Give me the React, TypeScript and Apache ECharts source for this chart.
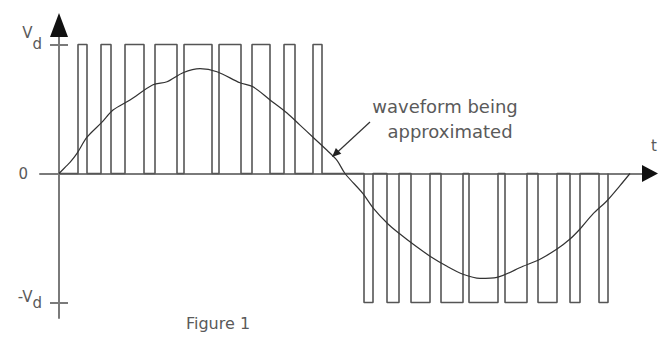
import React, { useEffect, useRef } from "react";
import * as echarts from "echarts";

// Pulse edges (time units, origin at the vertical axis)
const posPulseStart = [19, 42, 66, 96, 125, 160, 193, 225, 254];
const posPulseEnd = [28, 52, 85, 118, 153, 182, 211, 236, 263];
const negPulseStart = [305, 328, 352, 382, 410, 446, 479, 511, 540];
const negPulseEnd = [314, 340, 371, 404, 439, 468, 498, 521, 549];
const posLevel = 1; // Vd
const negLevel = -1; // -Vd

// Waveform being approximated
const curveT = [0, 7, 11, 18, 28, 43, 54, 71, 94, 108, 124, 141, 158, 181, 194, 211, 228, 241, 254, 268, 278, 286, 304, 314, 329, 341, 354, 371, 388, 404, 421, 438, 464, 481, 498, 511, 521, 534, 548, 561, 571];
const curveV = [0, 0.055, 0.086, 0.156, 0.281, 0.398, 0.492, 0.57, 0.688, 0.711, 0.781, 0.813, 0.789, 0.703, 0.672, 0.57, 0.469, 0.375, 0.281, 0.18, 0.102, 0, -0.156, -0.266, -0.391, -0.469, -0.547, -0.641, -0.719, -0.781, -0.813, -0.805, -0.719, -0.664, -0.586, -0.508, -0.43, -0.313, -0.211, -0.094, 0];

const yTickValues = [-1, 1];
const yLabelValues = [-1, 0, 1];

const FONT = "DejaVu Sans";
const AXIS_COLOR = "#7a7a7a";
const TEXT_COLOR = "#5a5a5a";

export default function App() {
  const ref = useRef<HTMLDivElement>(null);

  useEffect(() => {
    if (!ref.current) return;
    const chart = echarts.init(ref.current, undefined, { renderer: "svg" });

    const pulseData: number[][] = [[0, 0]];
    posPulseStart.forEach((s, i) => {
      const e = posPulseEnd[i];
      pulseData.push([s, 0], [s, posLevel], [e, posLevel], [e, 0]);
    });
    negPulseStart.forEach((s, i) => {
      const e = negPulseEnd[i];
      pulseData.push([s, 0], [s, negLevel], [e, negLevel], [e, 0]);
    });

    const curveData = curveT.map((t, i) => [t, curveV[i]]);

    const yMin = -1.12;
    const yMax = 1.058;

    chart.setOption({
      animation: false,
      backgroundColor: "#ffffff",
      grid: {
        left: 40,
        right: 13,
        top: 37,
        bottom: 20,
        containLabel: false,
        outerBoundsMode: "none",
      },
      xAxis: {
        type: "value",
        min: -19,
        max: 586,
        axisLine: { show: true, onZero: true, lineStyle: { color: AXIS_COLOR, width: 2 } },
        axisTick: { show: false },
        axisLabel: { show: false },
        splitLine: { show: false },
        name: "t",
        nameLocation: "end",
        nameGap: 6,
        nameTextStyle: {
          fontFamily: FONT,
          fontSize: 15,
          color: TEXT_COLOR,
          align: "left",
          verticalAlign: "bottom",
          padding: [0, 0, 20, 0],
        },
      },
      yAxis: [
        {
          type: "value",
          min: yMin,
          max: yMax,
          axisLine: { show: true, onZero: true, lineStyle: { color: AXIS_COLOR, width: 2 } },
          axisTick: {
            show: true,
            customValues: yTickValues,
            length: 9,
            inside: false,
            lineStyle: { color: AXIS_COLOR, width: 2 },
          },
          axisLabel: {
            show: true,
            customValues: yLabelValues,
            margin: -2,
            fontFamily: FONT,
            fontSize: 15,
            color: TEXT_COLOR,
            formatter: (v: number) =>
              v === 1 ? "{a|V}{d|d}" : v === 0 ? "{z|0}" : "{b|-V}{d|d}",
            rich: {
              a: { fontFamily: FONT, fontSize: 15, color: TEXT_COLOR, padding: [0, 0, 22, 0] },
              b: { fontFamily: FONT, fontSize: 15, color: TEXT_COLOR, padding: [0, 0, 12, 0] },
              d: { fontFamily: FONT, fontSize: 15, color: TEXT_COLOR },
              z: { fontFamily: FONT, fontSize: 15, color: TEXT_COLOR, padding: [0, 14, 0, 0] },
            },
          },
          splitLine: { show: false },
        },
        {
          type: "value",
          position: "right",
          min: yMin,
          max: yMax,
          axisLine: { show: false, onZero: true, onZeroAxisIndex: 0 },
          axisTick: {
            show: true,
            customValues: yTickValues,
            length: 9,
            inside: false,
            lineStyle: { color: AXIS_COLOR, width: 2 },
          },
          axisLabel: { show: false },
          splitLine: { show: false },
        },
      ],
      series: [
        {
          type: "line",
          data: pulseData,
          showSymbol: false,
          symbol: "none",
          lineStyle: { color: "#555555", width: 1.6 },
          z: 3,
        },
        {
          type: "line",
          data: curveData,
          showSymbol: false,
          symbol: "none",
          smooth: 0.3,
          lineStyle: { color: "#333333", width: 1.2 },
          z: 4,
        },
      ],
      graphic: [
        {
          type: "polygon",
          shape: { points: [[642, 165], [658, 173.5], [642, 182]] },
          style: { fill: "#111111" },
          z: 10,
        },
        {
          type: "polygon",
          shape: { points: [[50, 37], [59, 13], [68, 37]] },
          style: { fill: "#111111" },
          z: 10,
        },
        {
          type: "line",
          shape: { x1: 370, y1: 122, x2: 337, y2: 152.5 },
          style: { stroke: "#333333", lineWidth: 1.2 },
          z: 10,
        },
        {
          type: "polygon",
          shape: { points: [[332, 157], [341.3, 153.8], [335.9, 148.0]] },
          style: { fill: "#222222" },
          z: 10,
        },
        {
          type: "text",
          x: 445,
          y: 106,
          style: {
            text: "waveform being",
            font: `18px "${FONT}"`,
            fill: TEXT_COLOR,
            align: "center",
            verticalAlign: "middle",
            textAlign: "center",
            textVerticalAlign: "middle",
          },
          z: 10,
        },
        {
          type: "text",
          x: 450,
          y: 131,
          style: {
            text: "approximated",
            font: `18px "${FONT}"`,
            fill: TEXT_COLOR,
            align: "center",
            verticalAlign: "middle",
            textAlign: "center",
            textVerticalAlign: "middle",
          },
          z: 10,
        },
        {
          type: "text",
          x: 218,
          y: 323,
          style: {
            text: "Figure 1",
            font: `16px "${FONT}"`,
            fill: TEXT_COLOR,
            align: "center",
            verticalAlign: "middle",
            textAlign: "center",
            textVerticalAlign: "middle",
          },
          z: 10,
        },
      ],
    });

    return () => chart.dispose();
  }, []);

  return (
    <div
      ref={ref}
      style={{ position: "fixed", left: 0, top: 0, width: 658, height: 338, background: "#fff" }}
    />
  );
}
